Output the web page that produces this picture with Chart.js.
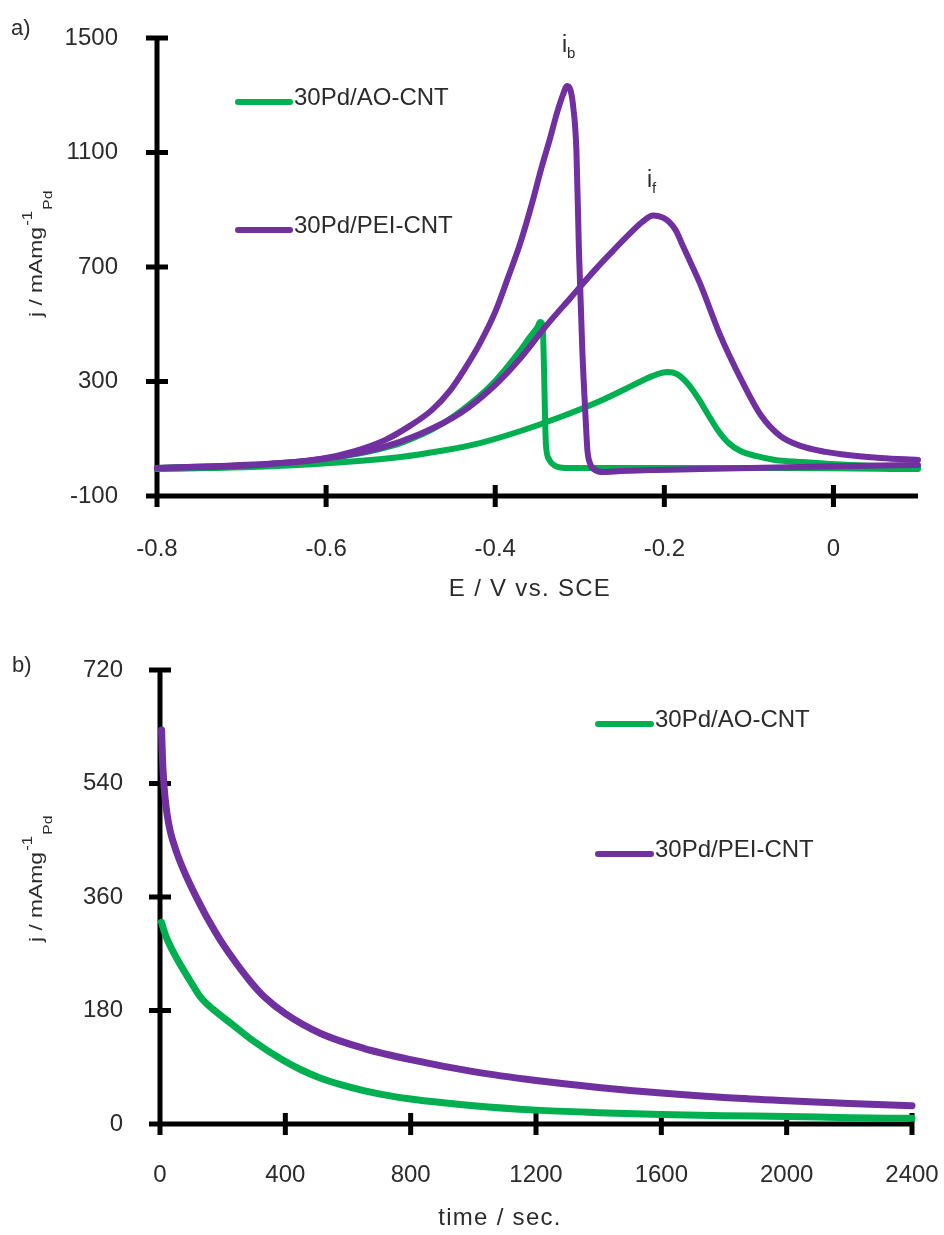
<!DOCTYPE html>
<html>
<head>
<meta charset="utf-8">
<script src="https://cdn.jsdelivr.net/npm/chart.js@4.4.1/dist/chart.umd.min.js"></script>
<style>
  html, body { margin: 0; padding: 0; background: #fff; }
  canvas { display: block; }
</style>
</head>
<body>
<canvas id="cv" width="944" height="620"></canvas>
<canvas id="ca" width="944" height="615"></canvas>
<script>
// ---- Cyclic voltammetry (panel a) ----
const cvTicksE = [-0.8, -0.6, -0.4, -0.2, 0];
const cvTicksJ = [-100, 300, 700, 1100, 1500];

// 30Pd/AO-CNT, forward (anodic) scan
const aoFwdE = [-0.800, -0.690, -0.595, -0.512, -0.465, -0.418, -0.370, -0.323, -0.276, -0.246, -0.222, -0.208, -0.196, -0.185, -0.173, -0.160, -0.148, -0.136, -0.124, -0.110, -0.092, -0.069, -0.039, 0.020, 0.100];
const aoFwdJ = [-6, 1, 15, 36, 57, 85, 127, 176, 232, 274, 309, 326, 333, 326, 295, 242, 183, 127, 85, 57, 40, 26, 19, 8, 1];
// 30Pd/AO-CNT, backward scan
const aoBwdE = [0.100, -0.039, -0.157, -0.276, -0.317, -0.329, -0.336, -0.340, -0.341, -0.342, -0.343, -0.344, -0.347, -0.350, -0.359, -0.370, -0.400, -0.430, -0.465, -0.512, -0.572, -0.631, -0.690, -0.800];
const aoBwdJ = [-6, -2, -2, -2, -2, 5, 26, 78, 166, 305, 428, 497, 508, 490, 455, 410, 302, 221, 148, 85, 43, 19, 8, -2];

// 30Pd/PEI-CNT, forward scan
const peiFwdE = [-0.800, -0.725, -0.654, -0.595, -0.536, -0.489, -0.441, -0.400, -0.370, -0.341, -0.311, -0.282, -0.260, -0.240, -0.226, -0.213, -0.202, -0.194, -0.186, -0.178, -0.167, -0.157, -0.134, -0.110, -0.086, -0.063, -0.039, -0.009, 0.017, 0.056, 0.100];
const peiFwdJ = [-2, 5, 15, 33, 68, 117, 190, 288, 382, 490, 592, 690, 759, 819, 858, 880, 873, 857, 826, 773, 703, 637, 462, 312, 183, 110, 75, 54, 43, 33, 26];
// 30Pd/PEI-CNT, backward scan
const peiBwdE = [0.100, 0.020, -0.039, -0.098, -0.157, -0.217, -0.252, -0.272, -0.282, -0.288, -0.291, -0.293, -0.297, -0.301, -0.304, -0.308, -0.311, -0.315, -0.320, -0.327, -0.335, -0.346, -0.357, -0.370, -0.385, -0.400, -0.418, -0.436, -0.453, -0.475, -0.501, -0.530, -0.566, -0.607, -0.666, -0.737, -0.800];
const peiBwdJ = [8, 5, 1, -2, -6, -9, -13, -16, -9, 15, 61, 166, 410, 759, 1109, 1266, 1318, 1332, 1301, 1238, 1151, 1039, 917, 787, 662, 543, 434, 344, 270, 200, 145, 96, 57, 29, 12, 1, -2];

// ---- Chronoamperometry (panel b) ----
const caTicksT = [0, 400, 800, 1200, 1600, 2000, 2400];
const caTicksJ = [0, 180, 360, 540, 720];

const caTimeAO = [5, 15, 30, 60, 95, 128, 169, 233, 297, 393, 450, 511, 580, 650, 730, 800, 1000, 1200, 1400, 1600, 1800, 2000, 2200, 2400];
const caJAO    = [320, 303, 285, 257, 228, 202, 182, 157, 132, 101, 86, 73, 62, 53, 45, 39.5, 29, 22, 18, 15, 13, 12, 10, 9];

const caTimePEI = [5, 8, 11, 16, 23, 32, 43, 58, 76, 98, 124, 155, 192, 236, 285, 330, 400, 511, 650, 800, 1000, 1200, 1400, 1600, 1800, 2000, 2200, 2400];
const caJPEI    = [625, 580, 550, 518, 490, 466, 446, 424, 402, 378, 352, 323, 292, 260, 228, 203, 175, 144, 120, 102, 83, 69, 58, 49, 42, 37, 32.5, 29];

const seriesNames = ['30Pd/AO-CNT', '30Pd/PEI-CNT'];
const GREEN = '#00B050';
const PURPLE = '#7030A0';
const FONT = '"Liberation Sans", Arial, sans-serif';
const TEXT = '#2b2b2b';

const toPoints = (xs, ys) => xs.map((x, i) => ({ x, y: ys[i] }));

Chart.defaults.font.family = FONT;
Chart.defaults.color = TEXT;

// Black axis lines with tick marks that cross the axis
const crossAxes = {
  id: 'crossAxes',
  beforeDatasetsDraw(chart, args, o) {
    const { ctx, chartArea: a, scales: { x, y } } = chart;
    const L = o.tick;
    ctx.save();
    ctx.strokeStyle = '#000';
    ctx.lineWidth = o.width;
    ctx.lineCap = 'butt';
    ctx.beginPath();
    ctx.moveTo(a.left, a.top - o.width / 2);
    ctx.lineTo(a.left, a.bottom);
    ctx.moveTo(a.left, a.bottom);
    ctx.lineTo(a.right, a.bottom);
    x.ticks.forEach(t => {
      const px = x.getPixelForValue(t.value);
      ctx.moveTo(px, a.bottom - L);
      ctx.lineTo(px, a.bottom + L);
    });
    y.ticks.forEach(t => {
      const py = y.getPixelForValue(t.value);
      ctx.moveTo(a.left - L, py);
      ctx.lineTo(a.left + L, py);
    });
    ctx.stroke();
    ctx.restore();
  }
};

// Titles, panel letter, peak labels and line-sample legend
const decorations = {
  id: 'decorations',
  afterDatasetsDraw(chart, args, o) {
    const { ctx } = chart;
    ctx.save();
    ctx.fillStyle = TEXT;
    ctx.textBaseline = 'alphabetic';

    // panel letter
    ctx.font = `22px ${FONT}`;
    ctx.textAlign = 'left';
    ctx.fillText(o.panel.text, o.panel.x, o.panel.y);

    // x axis title
    ctx.font = `24px ${FONT}`;
    ctx.letterSpacing = '1.3px';
    ctx.textAlign = 'center';
    ctx.textBaseline = 'middle';
    ctx.fillText(o.xTitle.text, o.xTitle.x, o.xTitle.y);
    ctx.letterSpacing = '0px';

    // y axis title: j / mAmg^-1 _Pd, written bottom-to-top
    ctx.save();
    ctx.translate(o.yTitle.x, o.yTitle.y);
    ctx.rotate(-Math.PI / 2);
    ctx.scale(1.2, 1);
    ctx.textAlign = 'left';
    ctx.textBaseline = 'alphabetic';
    let u = 0;
    [
      { t: 'j / mAmg', s: 19, d: 0 },
      { t: '-1', s: 14, d: -10 },
      { t: 'Pd', s: 13, d: 10 }
    ].forEach(p => {
      ctx.font = `${p.s}px ${FONT}`;
      ctx.fillText(p.t, u, p.d);
      u += ctx.measureText(p.t).width + 1;
    });
    ctx.restore();

    // peak labels
    ctx.textAlign = 'left';
    ctx.textBaseline = 'alphabetic';
    (o.peaks || []).forEach(p => {
      ctx.font = `23px ${FONT}`;
      ctx.fillText('i', p.x, p.y);
      ctx.font = `15px ${FONT}`;
      ctx.fillText(p.sub, p.x + 5, p.y + 6);
    });

    // legend
    o.legend.items.forEach(it => {
      const ds = chart.data.datasets[it.index];
      ctx.strokeStyle = ds.borderColor;
      ctx.lineWidth = 6;
      ctx.lineCap = 'round';
      ctx.beginPath();
      ctx.moveTo(o.legend.x + 3, it.y);
      ctx.lineTo(o.legend.x + o.legend.len - 3, it.y);
      ctx.stroke();
      ctx.font = `24px ${FONT}`;
      ctx.fillStyle = TEXT;
      ctx.fillText(ds.label, o.legend.x + o.legend.len + 1, it.y + 3);
    });
    ctx.restore();
  }
};

function axisFont() { return { size: 24, family: FONT }; }

// label overhang must not push the plot area in
function fixY(width) {
  return s => { s.width = width; s.paddingTop = 0; s.paddingBottom = 0; };
}
function fixX(height) {
  return s => { s.height = height; s.paddingLeft = 0; s.paddingRight = 0; };
}

// one smooth trace per scan
function trace(label, xs, ys, color, width, order) {
  return {
    label, data: toPoints(xs, ys),
    borderColor: color, backgroundColor: color, borderWidth: width,
    showLine: true, pointRadius: 0, cubicInterpolationMode: 'monotone',
    borderJoinStyle: 'round', borderCapStyle: 'round', order, clip: 12
  };
}

// ---- Panel a ----
new Chart(document.getElementById('cv'), {
  type: 'scatter',
  data: {
    datasets: [
      trace(seriesNames[0], aoFwdE, aoFwdJ, GREEN, 6, 1),
      trace(seriesNames[0], aoBwdE, aoBwdJ, GREEN, 6, 1),
      trace(seriesNames[1], peiFwdE, peiFwdJ, PURPLE, 6, 0),
      trace(seriesNames[1], peiBwdE, peiBwdJ, PURPLE, 6, 0)
    ]
  },
  options: {
    responsive: false, animation: false, devicePixelRatio: 1,
    layout: { padding: { top: 38, right: 26, left: 0, bottom: 0 } },
    plugins: {
      legend: { display: false }, tooltip: { enabled: false },
      crossAxes: { width: 5, tick: 11 },
      decorations: {
        panel: { text: 'a)', x: 11, y: 35 },
        xTitle: { text: 'E / V vs. SCE', x: 530, y: 589 },
        yTitle: { x: 42, y: 317 },
        peaks: [{ sub: 'b', x: 562, y: 52 }, { sub: 'f', x: 647, y: 187 }],
        legend: { x: 235, len: 58, items: [{ index: 0, y: 102 }, { index: 2, y: 230 }] }
      }
    },
    scales: {
      x: {
        type: 'linear', min: -0.8, max: 0.1,
        afterBuildTicks: s => { s.ticks = cvTicksE.map(v => ({ value: v })); },
        afterFit: fixX(620 - 496),
        grid: { display: false, drawTicks: false }, border: { display: false },
        ticks: { font: axisFont(), color: TEXT, padding: 39, callback: v => String(v) }
      },
      y: {
        type: 'linear', min: -100, max: 1500,
        afterBuildTicks: s => { s.ticks = cvTicksJ.map(v => ({ value: v })); },
        afterFit: fixY(157),
        grid: { display: false, drawTicks: false }, border: { display: false },
        ticks: { font: axisFont(), color: TEXT, padding: 39, callback: v => String(v) }
      }
    }
  },
  plugins: [crossAxes, decorations]
});

// ---- Panel b ----
new Chart(document.getElementById('ca'), {
  type: 'scatter',
  data: {
    datasets: [
      trace(seriesNames[0], caTimeAO, caJAO, GREEN, 7, 1),
      trace(seriesNames[1], caTimePEI, caJPEI, PURPLE, 7, 0)
    ]
  },
  options: {
    responsive: false, animation: false, devicePixelRatio: 1,
    layout: { padding: { top: 50, right: 32, left: 0, bottom: 0 } },
    plugins: {
      legend: { display: false }, tooltip: { enabled: false },
      crossAxes: { width: 5, tick: 11 },
      decorations: {
        panel: { text: 'b)', x: 12, y: 52 },
        xTitle: { text: 'time / sec.', x: 500, y: 598 },
        yTitle: { x: 42, y: 322 },
        peaks: [],
        legend: { x: 595, len: 59, items: [{ index: 0, y: 104 }, { index: 1, y: 234 }] }
      }
    },
    scales: {
      x: {
        type: 'linear', min: 0, max: 2400,
        afterBuildTicks: s => { s.ticks = caTicksT.map(v => ({ value: v })); },
        afterFit: fixX(615 - 504),
        grid: { display: false, drawTicks: false }, border: { display: false },
        ticks: { font: axisFont(), color: TEXT, padding: 37, callback: v => String(v) }
      },
      y: {
        type: 'linear', min: 0, max: 720,
        afterBuildTicks: s => { s.ticks = caTicksJ.map(v => ({ value: v })); },
        afterFit: fixY(160),
        grid: { display: false, drawTicks: false }, border: { display: false },
        ticks: { font: axisFont(), color: TEXT, padding: 37, callback: v => String(v) }
      }
    }
  },
  plugins: [crossAxes, decorations]
});
</script>
</body>
</html>
